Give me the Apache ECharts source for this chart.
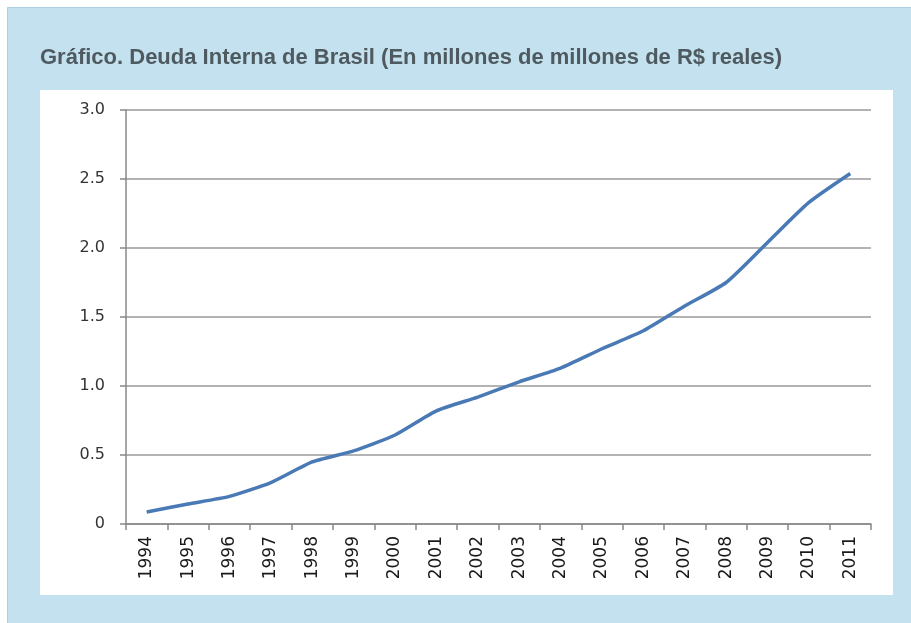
<!DOCTYPE html>
<html>
<head>
    <meta charset="utf-8">
    <title>Deuda Interna de Brasil</title>
    <script src="https://cdn.jsdelivr.net/npm/echarts@6/dist/echarts.min.js"></script>
    <style>
        html, body { margin: 0; padding: 0; background: #fff; }
        #main { width: 911px; height: 623px; }
    </style>
</head>
<body>
<div id="main"></div>
<script>
    // datos
    var years = ['1994', '1995', '1996', '1997', '1998', '1999', '2000', '2001', '2002',
        '2003', '2004', '2005', '2006', '2007', '2008', '2009', '2010', '2011'];
    var deuda = [0.087, 0.145, 0.20, 0.30, 0.45, 0.53, 0.645, 0.82, 0.92,
        1.03, 1.13, 1.27, 1.40, 1.58, 1.75, 2.04, 2.33, 2.54];
    var titulo = 'Gráfico. Deuda Interna de Brasil (En millones de millones de R$ reales)';

    var myChart = echarts.init(document.getElementById('main'));
    myChart.setOption({
        animation: false,
        backgroundColor: '#ffffff',
        graphic: [
            {
                type: 'rect',
                z: -10,
                shape: { x: 7.5, y: 7.5, width: 920, height: 630 },
                style: { fill: '#c3e1ee', stroke: '#a9cfe0', lineWidth: 1 }
            },
            {
                type: 'rect',
                z: -9,
                shape: { x: 40, y: 90, width: 853, height: 505 },
                style: { fill: '#ffffff' }
            }
        ],
        title: {
            text: titulo,
            left: 35,
            top: 42,
            textStyle: {
                color: '#4f5a60',
                fontFamily: 'Liberation Sans',
                fontWeight: 'bold',
                fontSize: 22
            }
        },
        grid: {
            left: 126,
            right: 40,
            top: 110,
            bottom: 99
        },
        xAxis: {
            type: 'category',
            data: years,
            boundaryGap: true,
            axisLine: { lineStyle: { color: '#888888', width: 1.5 } },
            axisTick: { show: true, length: 6, lineStyle: { color: '#888888', width: 1.5 } },
            axisLabel: {
                rotate: 90,
                margin: 12,
                color: '#1a1a1a',
                fontFamily: 'DejaVu Sans',
                fontSize: 17,
                interval: 0
            }
        },
        yAxis: {
            type: 'value',
            min: 0,
            max: 3,
            interval: 0.5,
            axisLine: { show: true, lineStyle: { color: '#888888', width: 1.5 } },
            axisTick: { show: true, length: 6, lineStyle: { color: '#888888', width: 1.5 } },
            splitLine: { lineStyle: { color: '#9a9a9a', width: 1.5 } },
            axisLabel: {
                margin: 21,
                color: '#333333',
                fontFamily: 'DejaVu Sans',
                fontSize: 16,
                formatter: function (v) {
                    return v === 0 ? '0' : v.toFixed(1);
                }
            }
        },
        series: [
            {
                type: 'line',
                data: deuda,
                showSymbol: false,
                smooth: 0.2,
                lineStyle: { color: '#4a7ab6', width: 3.5 }
            }
        ]
    });
</script>
</body>
</html>
